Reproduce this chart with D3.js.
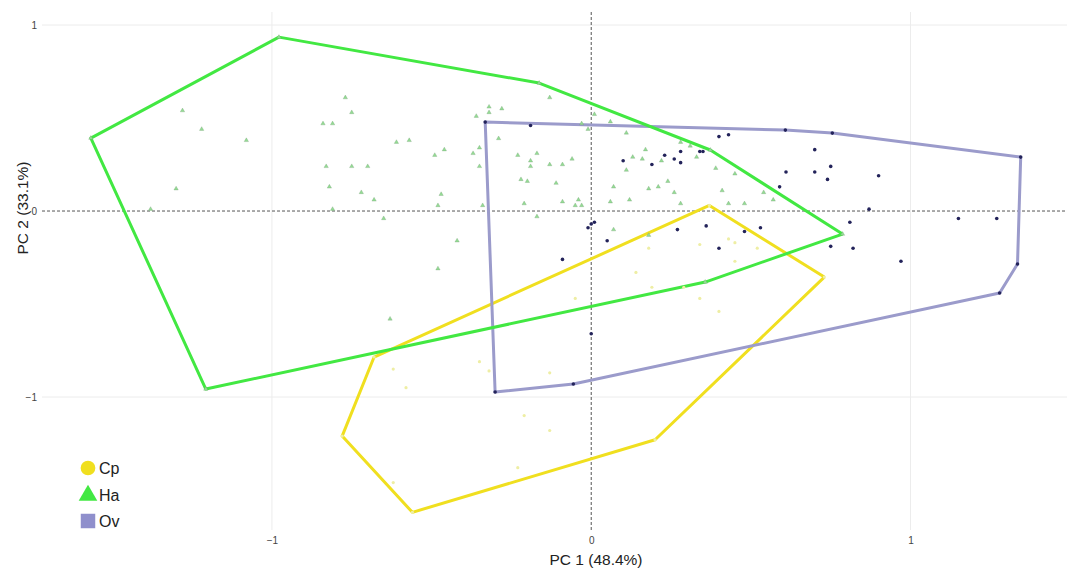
<!DOCTYPE html>
<html>
<head>
<meta charset="utf-8">
<script src="https://cdn.jsdelivr.net/npm/d3@7"></script>
<style>
  html, body { margin: 0; padding: 0; background: #fff; }
  svg text { font-family: "Liberation Sans", Arial, Helvetica, sans-serif; }
</style>
</head>
<body>
<div id="chart"></div>
<script>
// PCA scores, one array per group
const groups = ['Cp', 'Ha', 'Ov']

const cpPoints = [
    [0.37, 0.03], [0.73, -0.355], [0.20, -1.23], [-0.56, -1.62], [-0.78, -1.21], [-0.68, -0.785],
    [0.18, -0.20], [0.34, -0.18], [0.43, -0.15], [0.45, -0.17], [0.52, -0.20], [0.45, -0.27],
    [0.14, -0.33], [0.19, -0.41], [0.29, -0.41], [-0.05, -0.47], [0.34, -0.47], [0.40, -0.54],
    [-0.35, -0.81], [-0.32, -0.86], [-0.13, -0.87], [-0.62, -0.85], [-0.58, -0.95], [-0.21, -1.10],
    [-0.13, -1.18], [-0.23, -1.38], [-0.62, -1.46]
]

const haPoints = [
    [-1.567, 0.392], [-0.978, 0.935], [-0.163, 0.688], [0.373, 0.328], [0.787, -0.124], [0.357, -0.382], [-1.207, -0.957],
    [-1.38, 0.01], [-1.30, 0.12], [-1.28, 0.54], [-1.22, 0.44], [-1.08, 0.38],
    [-0.77, 0.61], [-0.75, 0.53], [-0.84, 0.47], [-0.81, 0.47], [-0.83, 0.24], [-0.75, 0.24],
    [-0.70, 0.24], [-0.82, 0.13], [-0.72, 0.10], [-0.68, 0.06], [-0.81, 0.01], [-0.61, 0.37],
    [-0.57, 0.38], [-0.65, -0.04], [-0.49, 0.30], [-0.46, 0.33], [-0.47, 0.09], [-0.48, 0.03],
    [-0.37, 0.31], [-0.35, 0.34], [-0.35, 0.24], [-0.34, 0.03], [-0.36, 0.51], [-0.32, 0.56],
    [-0.32, 0.53], [-0.28, 0.55], [-0.42, -0.16], [-0.48, -0.31], [-0.63, -0.58], [-0.29, 0.39],
    [-0.13, 0.61], [-0.23, 0.30], [-0.17, 0.31], [-0.19, 0.27], [-0.19, 0.24], [-0.22, 0.17],
    [-0.20, 0.16], [-0.13, 0.25], [-0.09, 0.25], [-0.06, 0.28], [-0.11, 0.15], [-0.21, 0.04],
    [-0.17, -0.03], [-0.09, 0.05], [-0.05, 0.03], [-0.04, 0.06], [-0.03, 0.03], [-0.01, 0.44],
    [0.01, 0.52], [0.06, 0.48], [-0.03, 0.47], [0.11, 0.42], [0.17, 0.33], [0.13, 0.29],
    [0.16, 0.28], [0.11, 0.22], [0.07, 0.13], [0.06, 0.05], [0.12, 0.06], [0.18, 0.12],
    [0.21, 0.13], [0.22, 0.27], [0.24, 0.16], [0.26, 0.10], [0.28, 0.04], [0.28, 0.37],
    [0.33, 0.29], [0.39, 0.23], [0.45, 0.20], [0.41, 0.11], [0.43, 0.04], [0.48, 0.04],
    [0.54, 0.10], [0.57, 0.06], [0.07, -0.10], [0.18, -0.13], [0.31, 0.35]
]

const ovPoints = [
    [-0.332, 0.478], [0.608, 0.435], [0.755, 0.419], [1.345, 0.29], [1.335, -0.285], [1.279, -0.441], [-0.056, -0.93], [-0.301, -0.973],
    [-0.19, 0.46], [0.10, 0.27], [0.19, 0.25], [0.23, 0.30], [0.26, 0.28], [0.28, 0.26],
    [0.28, 0.32], [0.34, 0.32], [0.35, 0.32], [0.40, 0.40], [0.43, 0.41], [0.70, 0.33],
    [0.61, 0.21], [0.70, 0.21], [0.75, 0.24], [0.74, 0.17], [0.90, 0.19], [0.59, 0.13],
    [0.87, 0.01], [0.81, -0.06], [1.15, -0.04], [1.27, -0.04], [0.48, -0.11], [0.53, -0.09],
    [0.75, -0.19], [0.82, -0.20], [0.97, -0.27], [-0.01, -0.09], [0.01, -0.06], [0.00, -0.07],
    [0.05, -0.16], [-0.09, -0.26], [0.27, -0.10], [0.36, -0.08], [0.40, -0.20], [0.00, -0.66]
]

const xTicks = [-1, 0, 1]
const yTicks = [-1, 0, 1]
const xTitle = 'PC 1 (48.4%)'
const yTitle = 'PC 2 (33.1%)'

const colors = { Cp: '#f0df1f', Ha: '#42e842', Ov: '#9b9bcb' }
const pointColors = { Cp: '#eeeea4', Ha: '#94dc94', Ov: '#23235a' }

const width = 1077, height = 570
const plot = { left: 42, right: 1067, top: 12, bottom: 530 }

const svg = d3.select('#chart').append('svg')
    .attr('width', width)
    .attr('height', height)

const x = d3.scaleLinear().domain([-1.72, 1.49]).range([plot.left, plot.right])
const y = d3.scaleLinear().domain([-1.715, 1.07]).range([plot.bottom, plot.top])

// grid
const grid = svg.append('g')
grid.selectAll('.vg').data(xTicks.filter(d => d !== 0)).enter().append('line')
    .attr('x1', d => x(d)).attr('x2', d => x(d))
    .attr('y1', plot.top).attr('y2', plot.bottom)
    .attr('stroke', '#ececec').attr('stroke-width', 1)
grid.selectAll('.hg').data(yTicks.filter(d => d !== 0)).enter().append('line')
    .attr('x1', plot.left).attr('x2', plot.right)
    .attr('y1', d => y(d)).attr('y2', d => y(d))
    .attr('stroke', '#ececec').attr('stroke-width', 1)

// dashed zero lines
svg.append('line')
    .attr('x1', x(0)).attr('x2', x(0))
    .attr('y1', plot.top).attr('y2', plot.bottom)
    .attr('stroke', '#555').attr('stroke-width', 1).attr('stroke-dasharray', '3,2')
svg.append('line')
    .attr('x1', plot.left).attr('x2', plot.right)
    .attr('y1', y(0)).attr('y2', y(0))
    .attr('stroke', '#555').attr('stroke-width', 1).attr('stroke-dasharray', '3,2')

// axes (labels only, no domain line)
const xAxis = svg.append('g')
    .attr('transform', `translate(0, ${plot.bottom + 4})`)
    .call(d3.axisBottom(x).tickValues(xTicks).tickSize(0).tickFormat(d3.format('d')))
xAxis.select('.domain').remove()
xAxis.selectAll('text').attr('fill', '#444').style('font-size', '10px')

const yAxis = svg.append('g')
    .attr('transform', `translate(${plot.left - 2}, 0)`)
    .call(d3.axisLeft(y).tickValues(yTicks).tickSize(0).tickFormat(d3.format('d')))
yAxis.select('.domain').remove()
yAxis.selectAll('text').attr('fill', '#444').style('font-size', '10px')

svg.append('text')
    .attr('x', 596).attr('y', 565)
    .attr('text-anchor', 'middle')
    .attr('fill', '#222')
    .style('font-size', '15.5px')
    .text(xTitle)

svg.append('text')
    .attr('transform', 'translate(28, 208) rotate(-90)')
    .attr('text-anchor', 'middle')
    .attr('fill', '#222')
    .style('font-size', '15.5px')
    .text(yTitle)

// convex hulls
const sets = { Cp: cpPoints, Ha: haPoints, Ov: ovPoints }
const line = d3.line().x(d => x(d[0])).y(d => y(d[1]))

const hullOrder = ['Cp', 'Ov', 'Ha']
hullOrder.forEach(g => {
    const hull = d3.polygonHull(sets[g])
    svg.append('path')
        .datum(hull.concat([hull[0]]))
        .attr('d', line)
        .attr('fill', 'none')
        .attr('stroke', colors[g])
        .attr('stroke-width', 3)
        .attr('stroke-linejoin', 'round')
})

// points
svg.append('g').selectAll('circle')
    .data(cpPoints).enter().append('circle')
    .attr('cx', d => x(d[0])).attr('cy', d => y(d[1]))
    .attr('r', 1.6)
    .attr('fill', pointColors.Cp)

svg.append('g').selectAll('path')
    .data(haPoints).enter().append('path')
    .attr('transform', d => `translate(${x(d[0])}, ${y(d[1])})`)
    .attr('d', d3.symbol(d3.symbolTriangle, 8))
    .attr('fill', pointColors.Ha)
    .attr('stroke', '#6f9a6f')
    .attr('stroke-width', 0.3)

svg.append('g').selectAll('circle')
    .data(ovPoints).enter().append('circle')
    .attr('cx', d => x(d[0])).attr('cy', d => y(d[1]))
    .attr('r', 1.8)
    .attr('fill', pointColors.Ov)

// legend
const legend = svg.append('g').attr('transform', 'translate(88, 468)')
groups.forEach((g, i) => {
    const item = legend.append('g').attr('transform', `translate(0, ${i * 26.5})`)
    const shape = g === 'Cp' ? d3.symbolCircle : g === 'Ha' ? d3.symbolTriangle : d3.symbolSquare
    item.append('path')
        .attr('d', d3.symbol(shape, g === 'Ov' ? 210 : g === 'Ha' ? 150 : 170))
        .attr('transform', g === 'Ha' ? 'translate(0, 1)' : null)
        .attr('fill', g === 'Ov' ? '#8f8fcc' : colors[g])
    item.append('text')
        .attr('x', 11).attr('y', 6)
        .attr('fill', '#222')
        .style('font-size', '16px')
        .text(g)
})
</script>
</body>
</html>
